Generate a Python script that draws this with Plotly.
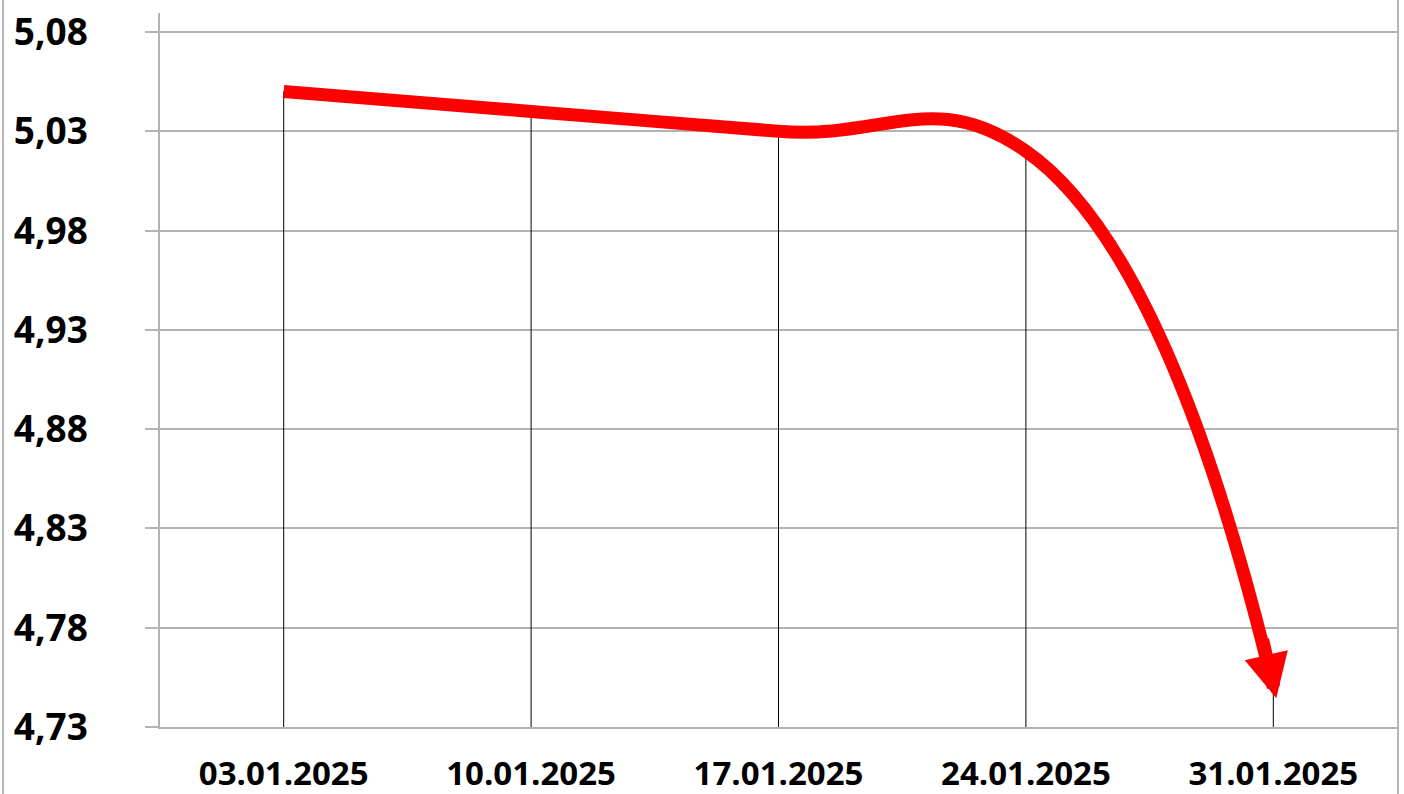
import plotly.graph_objects as go

dates = ["03.01.2025", "10.01.2025", "17.01.2025", "24.01.2025", "31.01.2025"]
values = [5.05, 5.04, 5.03, 5.02, 4.75]
y_min = 4.73
y_top_grid = 5.08
y_step = 0.05

W, H = 1404, 794
m_l, m_r, m_t, m_b = 160, 7, 13, 67
# axis extends a little above the top gridline, as in the original
y_max = y_top_grid + 19 / (727 - 32) * (y_top_grid - y_min)

fig = go.Figure()

# vertical drop lines from each point to the axis
fig.add_trace(go.Scatter(
    x=dates, y=values, mode="markers",
    marker=dict(size=1, opacity=0),
    error_y=dict(type="data", symmetric=False,
                 array=[0] * len(values),
                 arrayminus=[v - y_min for v in values],
                 width=0, thickness=1, color="black"),
    hoverinfo="skip", showlegend=False,
))

# red smoothed line
fig.add_trace(go.Scatter(
    x=dates, y=values, mode="lines",
    line=dict(color="#FF0000", width=13, shape="spline", smoothing=1.3),
    hoverinfo="skip", showlegend=False,
))

# arrow head at the last point, aligned with the end of the curve
fig.add_annotation(
    x=dates[-1], y=values[-1], xref="x", yref="y",
    text="", showarrow=True, arrowhead=2, arrowcolor="#FF0000",
    arrowwidth=13, arrowsize=0.68, ax=-14, ay=-60, standoff=0,
    xshift=3, yshift=-11,
)

# chart frame lines left and right
for xp in [(3 - m_l) / (W - m_l - m_r), (1398 - m_l) / (W - m_l - m_r)]:
    fig.add_shape(type="line", xref="paper", yref="paper",
                  x0=xp, x1=xp, y0=-0.2, y1=1.1,
                  line=dict(color="#9E9E9E", width=1.5))

fig.update_layout(
    template="none",
    width=W, height=H,
    margin=dict(l=m_l, r=m_r, t=m_t, b=m_b, autoexpand=False),
    plot_bgcolor="white", paper_bgcolor="white",
    separators=", ",
    showlegend=False,
    xaxis=dict(
        type="category", range=[-0.5, len(dates) - 0.5], automargin=False,
        showgrid=False, showline=True, linecolor="#B3B3B3", linewidth=1.5,
        ticks="", ticklabelstandoff=17,
        tickfont=dict(family="Open Sans", size=33, color="black", weight="bold"),
        zeroline=False,
    ),
    yaxis=dict(
        range=[y_min, y_max], tick0=y_min, dtick=y_step, tickformat=".2f",
        automargin=False,
        showgrid=True, gridcolor="#B3B3B3", gridwidth=1.5,
        showline=True, linecolor="#B3B3B3", linewidth=1.5,
        ticks="outside", ticklen=13, tickcolor="#B3B3B3", tickwidth=1.5,
        ticklabelstandoff=50,
        tickfont=dict(family="Open Sans", size=37, color="black", weight="bold"),
        zeroline=False,
    ),
)

fig.write_html(
    "out.html",
    config={"displayModeBar": False},
    post_script="document.body.style.margin='0';document.body.style.padding='0';",
)
